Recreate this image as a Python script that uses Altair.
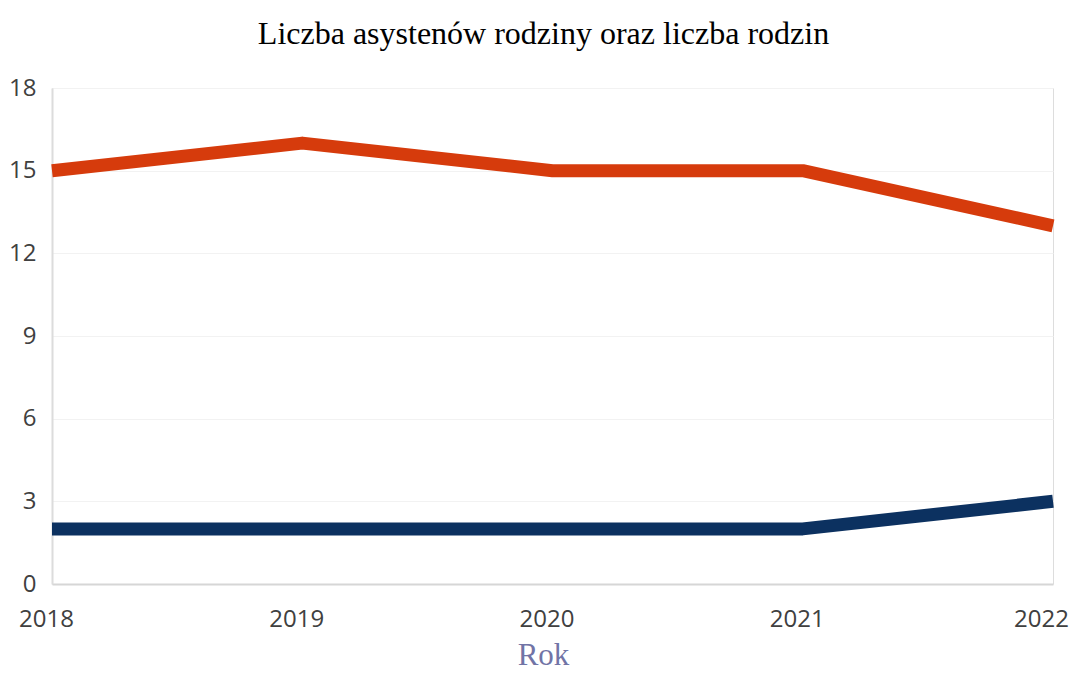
import altair as alt
import pandas as pd

years = ["2018", "2019", "2020", "2021", "2022"]
asystenci = [2, 2, 2, 2, 3]
rodziny = [15, 16, 15, 15, 13]
series_names = ["Liczba asystentów rodziny", "Liczba rodzin"]
series_colors = ["#0c3160", "#d63b0c"]
y_ticks = [0, 3, 6, 9, 12, 15, 18]

rows = []
for y, v in zip(years, asystenci):
    rows.append({"Rok": y, "Wartość": v, "Seria": series_names[0]})
for y, v in zip(years, rodziny):
    rows.append({"Rok": y, "Wartość": v, "Seria": series_names[1]})
df = pd.DataFrame(rows)

label_font = "Open Sans"

chart = alt.Chart(df).mark_line(strokeWidth=13, strokeCap="butt", strokeJoin="round").encode(
    x=alt.X("Rok:O", scale=alt.Scale(type="point", padding=0),
            axis=alt.Axis(title="Rok", labelAngle=0, labelFontSize=24, labelColor="#404040",
                          labelFont=label_font, labelPadding=23,
                          labelOffset={"expr": "datum.value == '2022' ? -12 : -6"}, ticks=False,
                          domainColor="#d6d6d6", domainWidth=2,
                          titleFont="Liberation Serif", titleFontSize=31, titleFontWeight="normal",
                          titleColor="#7174a6", titleX=491, titleY=80,
                          titleBaseline="alphabetic", grid=False)),
    y=alt.Y("Wartość:Q", scale=alt.Scale(domain=[0, 18]),
            axis=alt.Axis(title=None, values=y_ticks, labelFontSize=24,
                          labelColor="#404040", labelFont=label_font, labelPadding=16,
                          ticks=False, domainColor="#dcdcdc", domainWidth=2,
                          gridColor="#f2f2f2", gridWidth=1)),
    color=alt.Color("Seria:N", scale=alt.Scale(domain=series_names, range=series_colors), legend=None),
).properties(
    width=1001,
    height=496,
    title=alt.TitleParams("Liczba asystenów rodziny oraz liczba rodzin", font="Liberation Serif",
                          fontSize=32, fontWeight="normal", color="#000000", offset=25, dx=-9),
    padding={"left": 44, "top": 80, "right": 18, "bottom": 87},
    autosize=alt.AutoSizeParams(type="none"),
).configure_view(stroke=None).configure(background="#ffffff")

chart.save("out.html", embed_options={"renderer": "svg", "actions": False})
